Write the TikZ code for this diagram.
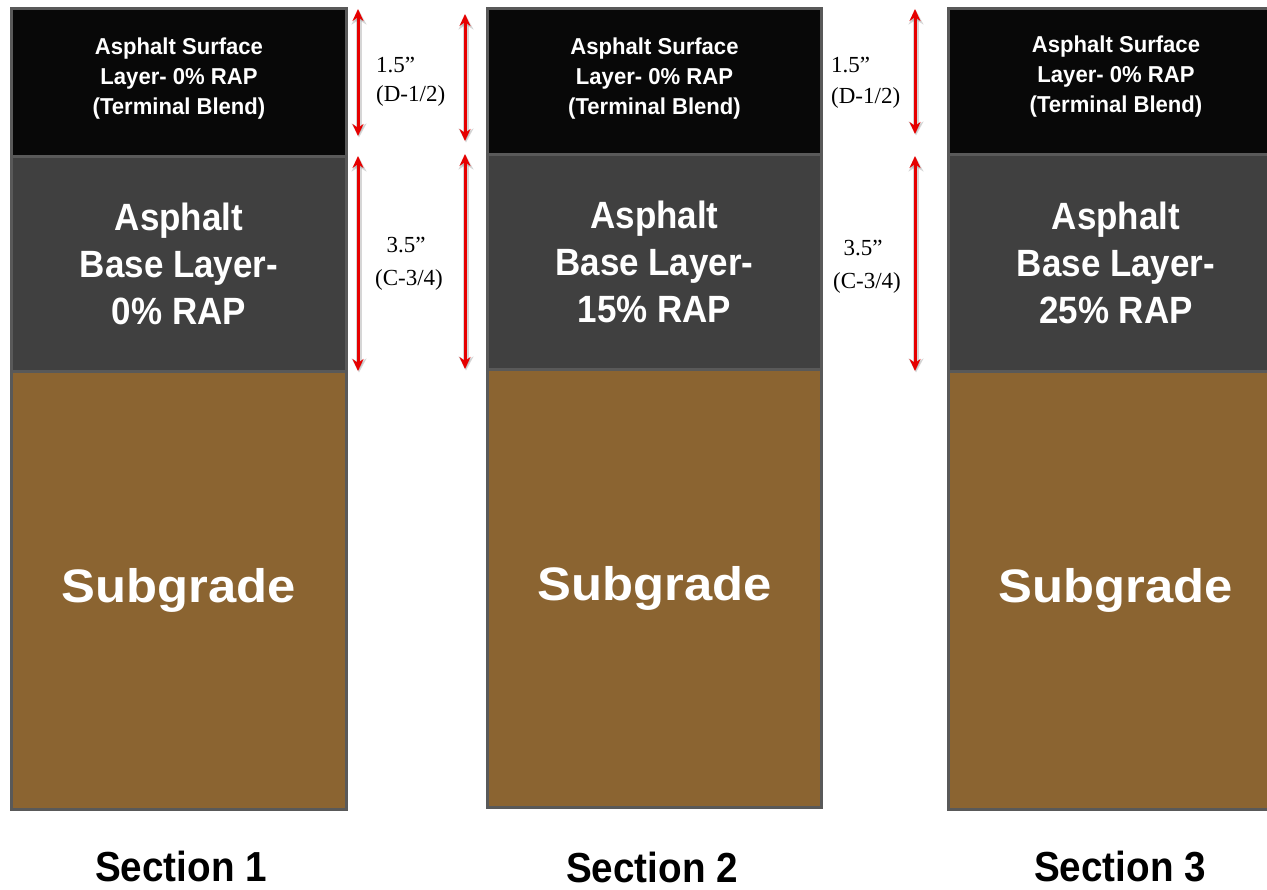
\documentclass[tikz,border=0pt]{standalone}
\usepackage{fontspec}
\usetikzlibrary{arrows.meta}
\setmainfont{Liberation Serif}
\newfontfamily\fSurf[FakeStretch=0.96]{Liberation Sans}
\newfontfamily\fBase[FakeStretch=0.92]{Liberation Sans}
\newfontfamily\fSub[FakeStretch=1.08]{Liberation Sans}
\newfontfamily\fSec[FakeStretch=0.92]{Liberation Sans}
\definecolor{bordergray}{HTML}{595959}
\definecolor{surfblack}{HTML}{080808}
\definecolor{basegray}{HTML}{404040}
\definecolor{subbrown}{HTML}{8B6431}
\definecolor{dimred}{HTML}{E60000}
\tikzset{
  layer/.style={draw=bordergray, line width=3pt, anchor=north west, text=white, align=center, inner sep=0pt},
  surflayer/.style={layer, fill=surfblack},
  surftext/.style={text=white, align=center, inner sep=0pt, font=\fSurf\bfseries\fontsize{23}{30}\selectfont},
  baselayer/.style={layer, fill=basegray, font=\fBase\bfseries\fontsize{38}{47}\selectfont},
  sublayer/.style={layer, fill=subbrown, font=\fSub\bfseries\fontsize{47}{56}\selectfont},
  sectitle/.style={font=\fSec\bfseries\fontsize{42}{50}\selectfont, inner sep=0pt},
  dimtext/.style={font=\fontsize{23}{28}\selectfont, inner sep=0pt},
  dimarrow/.style={draw=dimred, line width=3pt, {Stealth[length=12pt,width=11pt]}-{Stealth[length=12pt,width=11pt]}},
  dimshadow/.style={draw=black!45, line width=6pt, opacity=0.35, {Stealth[length=14pt,width=15pt]}-{Stealth[length=14pt,width=15pt]}}
}
\begin{document}
\begin{tikzpicture}[x=1pt, y=-1pt]
\useasboundingbox (0,0) rectangle (1267,890);
\clip (0,0) rectangle (1267,890);
\fill[white] (0,0) rectangle (1267,890);

% Section 1
\node[sublayer, minimum width=335pt, minimum height=438pt] (sub1) at (10,370) {Subgrade};
\node[baselayer, minimum width=335pt, minimum height=215pt] (base1) at (10,155) {Asphalt\\Base Layer-\\0\% RAP};
\node[surflayer, minimum width=335pt, minimum height=148pt] (surf1) at (10,7) {};
\node[surftext] (surf1t) at ([yshift=4pt]surf1.center) {Asphalt Surface\\Layer- 0\% RAP\\(Terminal Blend)};

% Section 2
\node[sublayer, minimum width=334pt, minimum height=438pt] (sub2) at (486,368) {Subgrade};
\node[baselayer, minimum width=334pt, minimum height=215pt] (base2) at (486,153) {Asphalt\\Base Layer-\\15\% RAP};
\node[surflayer, minimum width=334pt, minimum height=146pt] (surf2) at (486,7) {};
\node[surftext] (surf2t) at ([yshift=3pt]surf2.center) {Asphalt Surface\\Layer- 0\% RAP\\(Terminal Blend)};

% Section 3
\node[sublayer, minimum width=335pt, minimum height=438pt] (sub3) at (947,370) {Subgrade};
\node[baselayer, minimum width=335pt, minimum height=217pt] (base3) at (947,153) {Asphalt\\Base Layer-\\25\% RAP};
\node[surflayer, minimum width=335pt, minimum height=146pt] (surf3) at (947,7) {};
\node[surftext] (surf3t) at ([yshift=5pt]surf3.center) {Asphalt Surface\\Layer- 0\% RAP\\(Terminal Blend)};

% dimension arrow end points
\coordinate (a1t) at (358,9);   \coordinate (a1b) at (358,136);
\coordinate (b1t) at (358,156); \coordinate (b1b) at (358,371);
\coordinate (a2t) at (465,14);  \coordinate (a2b) at (465,141);
\coordinate (b2t) at (465,154); \coordinate (b2b) at (465,369);
\coordinate (a3t) at (915,9);   \coordinate (a3b) at (915,134);
\coordinate (b3t) at (915,156); \coordinate (b3b) at (915,371);

\foreach \p/\q in {a1t/a1b, b1t/b1b, a2t/a2b, b2t/b2b, a3t/a3b, b3t/b3b}{
  \draw[dimshadow, transform canvas={shift={(1pt,-1.5pt)}}] (\p) -- (\q);
  \draw[dimarrow] (\p) -- (\q);
}

% dimension labels
\node[dimtext, anchor=west] (d1a) at (376,65) {1.5”};
\node[dimtext, anchor=west] (d1b) at (376,96) {(D-1/2)};
\node[dimtext] (c1a) at (406,245) {3.5”};
\node[dimtext] (c1b) at (409,280) {(C-3/4)};
\node[dimtext, anchor=west] (d2a) at (831,65) {1.5”};
\node[dimtext, anchor=west] (d2b) at (831,98) {(D-1/2)};
\node[dimtext] (c2a) at (863,248) {3.5”};
\node[dimtext] (c2b) at (867,283) {(C-3/4)};

% section titles
\node[sectitle] (t1) at (181,866) {Section 1};
\node[sectitle] (t2) at (652,867) {Section 2};
\node[sectitle] (t3) at (1120,867) {Section 3};
\end{tikzpicture}
\end{document}
